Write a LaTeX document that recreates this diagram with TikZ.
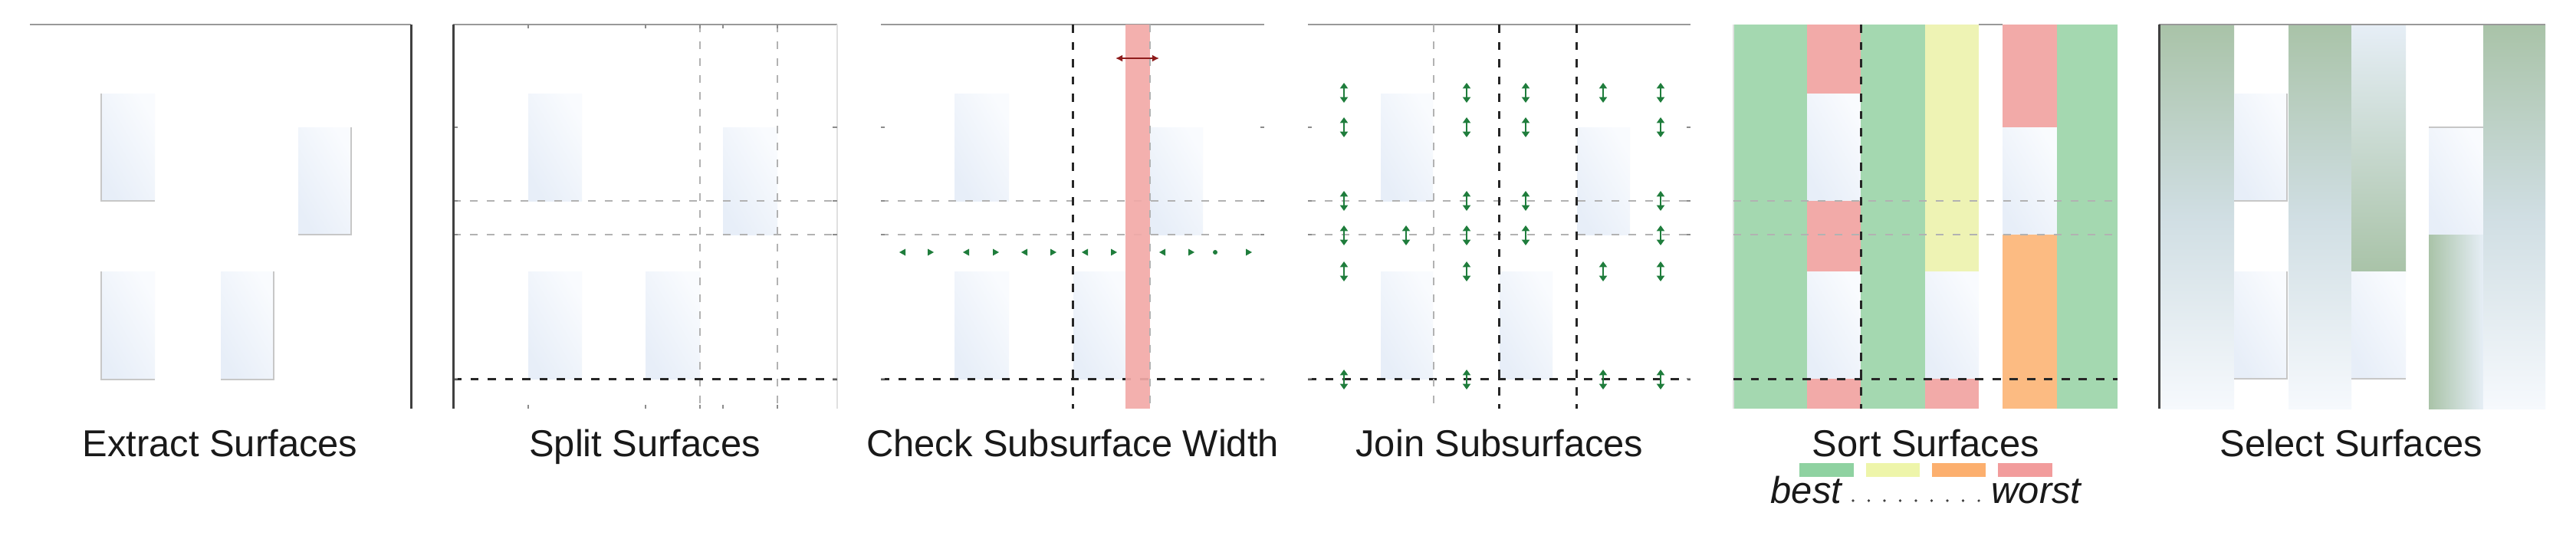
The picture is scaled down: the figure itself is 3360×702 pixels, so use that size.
\documentclass[tikz,border=0pt]{standalone}
\usepackage{fontspec}
\newfontfamily\labfont{Liberation Sans}
\usetikzlibrary{arrows.meta}
\definecolor{surfA}{HTML}{E7EEF8}
\definecolor{surfB}{HTML}{F9FBFE}
\definecolor{sgreen}{HTML}{A4D8B0}
\definecolor{sred}{HTML}{F2AAA8}
\definecolor{syellow}{HTML}{EEF3B4}
\definecolor{sorange}{HTML}{FCBB82}
\definecolor{lgreen}{HTML}{8FD2A1}
\definecolor{lyellow}{HTML}{EEF5AA}
\definecolor{lorange}{HTML}{FCAF6E}
\definecolor{lred}{HTML}{F29C9C}
\definecolor{jgreen}{HTML}{1F7D3C}
\definecolor{dred}{HTML}{8E1B1B}
\definecolor{selg}{HTML}{A9C3A8}
\definecolor{selm}{HTML}{D0DEE3}
\definecolor{selw}{HTML}{F6F9FD}
\definecolor{seltop}{HTML}{E6EEF6}
\tikzset{
  axisline/.style={draw=black!40, line width=0.5pt},
  darkaxis/.style={draw=black!75, line width=0.85pt},
  lightedge/.style={draw=black!12, line width=0.5pt},
  rectedge/.style={draw=black!22, line width=0.5pt},
  gdash/.style={draw=black!30, line width=0.55pt, dash pattern=on 2.85pt off 3.4pt},
  kdash/.style={draw=black!85, line width=0.85pt, dash pattern=on 3.1pt off 3.3pt},
  tick/.style={draw=black!45, line width=0.5pt},
  surf/.style={left color=surfA, right color=surfB, shading angle=120},
  selcol/.style={top color=selg, bottom color=selw, middle color=selm},
  lab/.style={font=\labfont\fontsize{13.9}{16}\selectfont, text=black!90, anchor=base, inner sep=0pt},
  jarrow/.style={draw=jgreen, line width=0.4pt, {Triangle[length=2.1pt,width=2.9pt]}-{Triangle[length=2.1pt,width=2.9pt]}},
  warrow/.style={draw=dred, line width=0.6pt, {Latex[length=2.6pt,width=2.6pt]}-{Latex[length=2.6pt,width=2.6pt]}},
}
\begin{document}
\begin{tikzpicture}[x=0.01cm,y=-0.01cm]
\useasboundingbox (0,0) rectangle (3360,702);
\fill[white] (0,0) rectangle (3360,702);

% ================= Panel 1: Extract Surfaces
\draw[axisline] (39,32) -- (536,32);
\draw[darkaxis] (536,32) -- (536,533);
\shade[surf] (132,122) rectangle (202,262);
\shade[surf] (389,166) rectangle (458,306);
\shade[surf] (132,354) rectangle (202,495);
\shade[surf] (288,354) rectangle (357,495);
\draw[rectedge] (132,122) -- (132,262) -- (202,262);
\draw[rectedge] (389,306) -- (458,306) -- (458,166);
\draw[rectedge] (132,354) -- (132,495) -- (202,495);
\draw[rectedge] (288,495) -- (357,495) -- (357,354);
\node[lab] (l1) at (287,595) {Extract Surfaces};

% ================= Panel 2: Split Surfaces
\shade[surf] (689,122) rectangle (759,262);
\shade[surf] (943,166) rectangle (1014,306);
\shade[surf] (689,354) rectangle (759,494);
\shade[surf] (842,354) rectangle (913,494);
\draw[axisline] (591,32) -- (1092,32);
\draw[lightedge] (1092,32) -- (1092,533);
\foreach \yy in {262,306} \draw[gdash] (591,\yy) -- (1092,\yy);
\foreach \xx in {913,1014} \draw[gdash] (\xx,32) -- (\xx,533);
\draw[kdash] (591,494) -- (1092,494);
\foreach \yy in {166,262,306,494} {\draw[tick] (591,\yy) -- (597,\yy); \draw[tick] (1086,\yy) -- (1092,\yy);}
\foreach \xx in {689,842,913,943,1014} {\draw[tick] (\xx,32) -- (\xx,37); \draw[tick] (\xx,528) -- (\xx,533);}
\draw[darkaxis] (591,32) -- (591,533);
\node[lab] (l2) at (841,595) {Split Surfaces};

% ================= Panel 3: Check Subsurface Width
\shade[surf] (1245,122) rectangle (1316,262);
\shade[surf] (1500,166) rectangle (1569,306);
\shade[surf] (1245,354) rectangle (1316,494);
\shade[surf] (1400,354) rectangle (1468,494);
\draw[axisline] (1149,32) -- (1649,32);
\foreach \yy in {262,306} \draw[gdash] (1149,\yy) -- (1649,\yy);
\draw[kdash] (1149,494) -- (1649,494);
\draw[kdash] (1399,32) -- (1399,533);
\foreach \yy in {166,262,306,494} {\draw[tick] (1149,\yy) -- (1154,\yy); \draw[tick] (1644,\yy) -- (1649,\yy);}
\fill[sred, opacity=0.92] (1468,32) rectangle (1500,533);
\draw[gdash] (1500,32) -- (1500,533);
\coordinate (wa) at (1455,76);
\coordinate (wb) at (1512,76);
\draw[warrow] (wa) -- (wb);
% width arrowheads
\foreach \xx in {1173,1256,1332,1411,1512}
  \fill[jgreen] (\xx,329) -- ++(8,-4.5) -- ++(0,9) -- cycle;
\foreach \xx in {1218,1303,1378,1457,1558,1633}
  \fill[jgreen] (\xx,329) -- ++(-8,-4.5) -- ++(0,9) -- cycle;
\fill[jgreen] (1585,329) circle (3);
\node[lab] (l3) at (1399,595) {Check Subsurface Width};

% ================= Panel 4: Join Subsurfaces
\shade[surf] (1801,122) rectangle (1869,262);
\shade[surf] (2057,166) rectangle (2126,306);
\shade[surf] (1801,354) rectangle (1869,494);
\shade[surf] (1956,354) rectangle (2025,494);
\draw[axisline] (1706,32) -- (2205,32);
\foreach \yy in {262,306} \draw[gdash] (1706,\yy) -- (2205,\yy);
\draw[kdash] (1706,494) -- (2205,494);
\draw[gdash] (1870,32) -- (1870,533);
\foreach \xx in {1955,2056} \draw[kdash] (\xx,32) -- (\xx,533);
\foreach \yy in {166,262,306,494} {\draw[tick] (1706,\yy) -- (1711,\yy); \draw[tick] (2200,\yy) -- (2205,\yy);}
\foreach \cx/\rows [count=\c] in {1753/{121,166,262,307,354,495}, 1834/{307}, 1913/{121,166,262,307,354,495}, 1990/{121,166,262,307}, 2091/{121,354,495}, 2166/{121,166,262,307,354,495}}
  \foreach \ry [count=\r] in \rows {
    \coordinate (j\c r\r a) at (\cx,\ry-13);
    \coordinate (j\c r\r b) at (\cx,\ry+13);
    \draw[jarrow] (j\c r\r a) -- (j\c r\r b);
  }
\node[lab] (l4) at (1956,595) {Join Subsurfaces};

% ================= Panel 5: Sort Surfaces
\fill[sgreen] (2261,32) rectangle (2357,533);
\fill[sred] (2357,32) rectangle (2427,122);
\shade[surf] (2357,122) rectangle (2427,262);
\fill[sred] (2357,262) rectangle (2427,354);
\shade[surf] (2357,354) rectangle (2427,494);
\fill[sred] (2357,494) rectangle (2427,533);
\fill[sgreen] (2427,32) rectangle (2511,533);
\fill[syellow] (2511,32) rectangle (2581,354);
\shade[surf] (2511,354) rectangle (2581,494);
\fill[sred] (2511,494) rectangle (2581,533);
\fill[sred] (2612,32) rectangle (2683,166);
\shade[surf] (2612,166) rectangle (2683,306);
\fill[sorange] (2612,306) rectangle (2683,533);
\fill[sgreen] (2683,32) rectangle (2762,533);
\draw[axisline] (2581,32) -- (2612,32);
\draw[lightedge] (2261,32) -- (2261,533);
\foreach \yy in {262,306} \draw[gdash] (2261,\yy) -- (2762,\yy);
\draw[kdash] (2261,494) -- (2762,494);
\draw[kdash] (2427,32) -- (2427,533);
\node[lab] (l5) at (2512,595) {Sort Surfaces};
\fill[lgreen] (2347,604) rectangle (2418,622);
\fill[lyellow] (2434,604) rectangle (2504,622);
\fill[lorange] (2520,604) rectangle (2590,622);
\fill[lred] (2606,604) rectangle (2677,622);
\node[lab, anchor=base west] (lbest) at (2309,656) {\itshape best};
\node[lab, anchor=base east] (lworst) at (2715,656) {\itshape worst};
\foreach \i in {0,...,8} \fill[black!75] (2417+20.5*\i,653) circle (1.8);

% ================= Panel 6: Select Surfaces
\shade[selcol] (2818,32) rectangle (2914,533);
\shade[surf] (2914,122) rectangle (2983,262);
\shade[surf] (2914,354) rectangle (2983,494);
\draw[rectedge] (2914,262) -- (2983,262) -- (2983,122);
\draw[rectedge] (2914,494) -- (2983,494) -- (2983,354);
\shade[selcol] (2985,32) rectangle (3067,533);
\shade[top color=seltop, middle color=selm, bottom color=selg] (3067,32) rectangle (3138,354);
\shade[surf] (3067,354) rectangle (3138,494);
\draw[rectedge] (3067,494) -- (3138,494);
\shade[surf] (3168,166) rectangle (3239,306);
\draw[rectedge] (3168,166) -- (3239,166);
\shade[left color=selg, right color=seltop] (3168,306) rectangle (3239,533);
\shade[selcol] (3239,32) rectangle (3320,533);
\draw[axisline] (2816,32) -- (3320,32);
\draw[darkaxis] (2816,32) -- (2816,533);
\node[lab] (l6) at (3067,595) {Select Surfaces};
\end{tikzpicture}
\end{document}
